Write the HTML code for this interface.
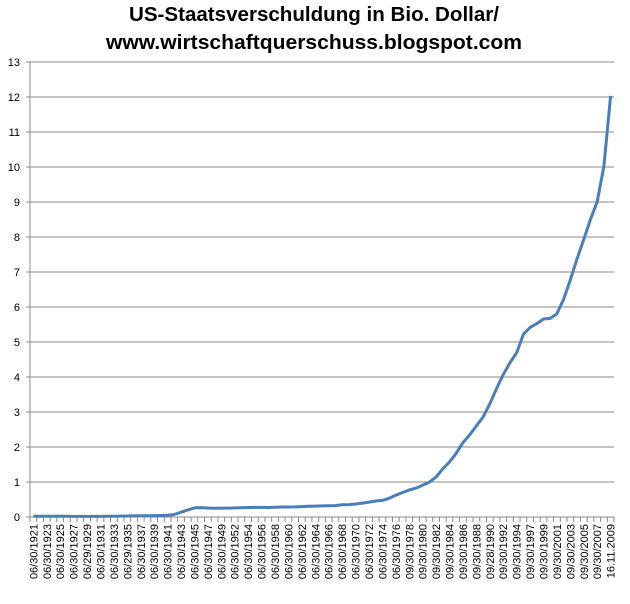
<!DOCTYPE html>
<html><head><meta charset="utf-8"><style>
body{margin:0;background:#fff;}
svg text{font-family:"Liberation Sans",sans-serif;}
</style></head><body>
<svg id="chart" width="630" height="599" xmlns="http://www.w3.org/2000/svg">
<text x="314" y="21" text-anchor="middle" font-size="20" font-weight="bold" textLength="370" lengthAdjust="spacingAndGlyphs">US-Staatsverschuldung in Bio. Dollar/</text>
<text x="314" y="49" text-anchor="middle" font-size="20" font-weight="bold" textLength="416" lengthAdjust="spacingAndGlyphs">www.wirtschaftquerschuss.blogspot.com</text>
<g id="grid"></g><g id="yaxis"></g><g id="xaxis"></g><g id="series"></g>
</svg>
<script>
const labels=["06/30/1921","06/30/1923","06/30/1925","06/30/1927","06/29/1929","06/30/1931","06/30/1933","06/29/1935","06/30/1937","06/30/1939","06/30/1941","06/30/1943","06/30/1945","06/30/1947","06/30/1949","06/30/1952","06/30/1954","06/30/1956","06/30/1958","06/30/1960","06/30/1962","06/30/1964","06/30/1966","06/30/1968","06/30/1970","06/30/1972","06/30/1974","06/30/1976","09/30/1978","09/30/1980","09/30/1982","09/30/1984","09/30/1986","09/30/1988","09/28/1990","09/30/1992","09/30/1994","09/30/1997","09/30/1999","09/30/2001","09/30/2003","09/30/2005","09/30/2007","16.11.2009"];
const debt=[0.024,0.023,0.022,0.021,0.020,0.020,0.018,0.018,0.017,0.016,0.017,0.019,0.023,0.027,0.029,0.034,0.036,0.037,0.040,0.043,0.049,0.072,0.137,0.201,0.259,0.269,0.258,0.252,0.253,0.255,0.259,0.266,0.271,0.274,0.273,0.271,0.276,0.285,0.286,0.289,0.298,0.306,0.312,0.317,0.320,0.326,0.348,0.354,0.371,0.398,0.427,0.458,0.475,0.533,0.620,0.699,0.772,0.827,0.908,0.998,1.142,1.377,1.572,1.823,2.125,2.350,2.602,2.857,3.233,3.665,4.065,4.411,4.693,5.224,5.413,5.526,5.656,5.674,5.807,6.228,6.783,7.379,7.933,8.507,9.008,10.025,12.03];
const yTicks=[0,1,2,3,4,5,6,7,8,9,10,11,12,13];
const NS="http://www.w3.org/2000/svg";
const X0=30,X1=614,Y0=517,Y13=62;
const n=debt.length,step=(X1-X0)/n;
const xs=i=>X0+step*(i+0.5);
const ys=v=>Y0-(v/13)*(Y0-Y13);
function mk(tag,parent,attrs){const e=document.createElementNS(NS,tag);for(const k in attrs)e.setAttribute(k,attrs[k]);document.getElementById(parent).appendChild(e);return e;}
yTicks.forEach(t=>{
 const g=mk('line','grid',{x1:X0,x2:X1,y1:ys(t),y2:ys(t),stroke:'#888',"stroke-width":1});
 
 
 const tk=mk('line','yaxis',{x1:X0-4,x2:X0,y1:ys(t),y2:ys(t),stroke:'#888'});
 
 
 const tx=mk('text','yaxis',{x:X0-10,y:ys(t)+4,"text-anchor":"end","font-size":11});
 
 
 tx.textContent=t;
});
const ax=mk('line','yaxis',{x1:X0,x2:X0,y1:Y13,y2:Y0,stroke:'#888'});


for(let i=0;i<=n;i++){
 const t=mk('line','xaxis',{x1:X0+step*i,x2:X0+step*i,y1:Y0,y2:Y0+5,stroke:'#888'});
 
 
}
labels.forEach((l,j)=>{
 const x=xs(j*2)+4,y=Y0+7;
 const tx=mk('text','xaxis',{x:x,y:y,"text-anchor":"end","font-size":11,transform:`rotate(-90 ${x} ${y})`});
 
 
 tx.textContent=l;
});
const p=mk('polyline','series',{points:debt.map((v,i)=>xs(i).toFixed(1)+','+ys(v).toFixed(1)).join(' '),fill:'none',stroke:'#4a7ebb',"stroke-width":3,"stroke-linejoin":"round"});


</script>
</body></html>
